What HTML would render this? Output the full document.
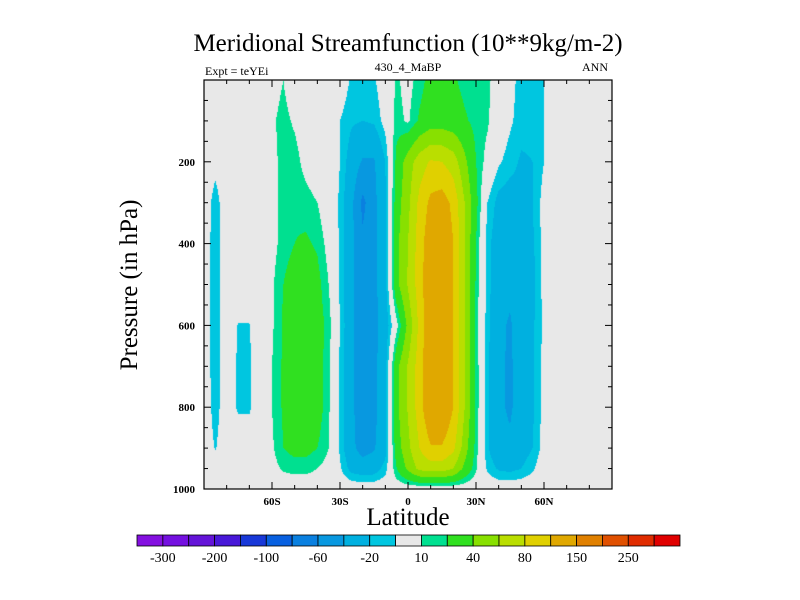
<!DOCTYPE html>
<html><head><meta charset="utf-8"><style>
body{margin:0;background:#fff;width:800px;height:600px;overflow:hidden;position:relative;font-family:"Liberation Serif",serif}
.t{position:absolute;white-space:nowrap;color:#000}
</style></head><body>
<div class="t" style="left:0;width:816px;text-align:center;top:30px;font-size:25px">Meridional Streamfunction (10**9kg/m-2)</div>
<div class="t" style="left:205px;top:64px;font-size:12px">Expt = teYEi</div>
<div class="t" style="left:358px;width:100px;text-align:center;top:60px;font-size:12px">430_4_MaBP</div>
<div class="t" style="left:582px;top:60px;font-size:12px">ANN</div>
<div class="t" style="left:130px;top:285px;font-size:25px;transform:translate(-50%,-50%) rotate(-90deg)">Pressure (in hPa)</div>
<div class="t" style="left:0;width:816px;text-align:center;top:504px;font-size:25px">Latitude</div>
<canvas id="field" width="408" height="409" style="position:absolute;left:204px;top:80px"></canvas>
<svg id="ov" width="800" height="600" style="position:absolute;left:0;top:0"></svg>
<script>
const lats=[-90,-85,-80,-75,-70,-65,-60,-55,-50,-45,-40,-35,-30,-25,-20,-15,-10,-5,0,5,10,15,20,25,30,35,40,45,50,55,60,65,70,75,80,85,90];
const pres=[0,100,200,300,400,500,600,700,800,900,950,1000];
const row0  =[0,0,0,0,0,0,4,10,0,0,0,0,0,-12,-15,-12,0,12,5,15,25,25,22,16,14,12,5,-5,-15,-15,-10,0,0,0,0,0,0];
const row100=[0,0,0,0,0,0,8,14,8,0,0,0,-10,-18,-20,-18,-5,14,8,22,30,30,28,22,16,12,0,-8,-15,-16,-10,0,0,0,0,0,0];
const row200=[0,-5,0,0,0,0,5,15,15,5,0,0,-10,-28,-42,-42,-20,25,50,70,82,80,70,45,20,5,-8,-15,-22,-20,-10,0,0,0,0,0,0];
const row300=[0,-16,0,0,0,0,5,15,18,15,10,0,-12,-35,-65,-46,-22,30,55,85,105,110,95,60,25,-10,-25,-28,-25,-20,-5,0,0,0,0,0,0];
const row400=[0,-18,0,0,0,0,5,15,20,22,18,5,-12,-35,-56,-46,-25,35,60,90,115,118,100,60,20,-15,-30,-32,-28,-22,-5,0,0,0,0,0,0];
const row500=[0,-18,0,0,0,0,8,20,28,30,25,10,-12,-35,-55,-46,-25,35,62,90,120,122,100,60,18,-15,-32,-36,-30,-25,-5,0,0,0,0,0,0];
const row600=[0,-18,0,-10.5,-10.5,0,8,22,30,32,28,15,-10,-35,-54,-46,-30,5,45,85,120,125,100,60,15,-15,-36,-42,-30,-22,-8,0,0,0,0,0,0];
const row700=[0,-18,0,-12,-12,0,10,22,30,32,28,12,-12,-35,-54,-46,-25,35,62,90,122,122,100,60,18,-18,-36,-43,-30,-22,-5,0,0,0,0,0,0];
const row800=[0,-16,0,-12,-12,0,10,22,30,32,28,12,-12,-35,-54,-46,-25,35,62,90,122,122,100,60,18,-18,-36,-43,-30,-22,-5,0,0,0,0,0,0];
const row900=[0,-11,0,0,0,0,8,20,25,25,20,10,-12,-35,-48,-42,-25,30,55,80,98,98,85,50,15,-18,-34,-36,-28,-20,-5,0,0,0,0,0,0];
const row950=[0,0,0,0,0,0,5,12,14,14,10,5,-8,-25,-30,-28,-15,20,45,65,70,70,60,35,12,-12,-22,-24,-20,-12,0,0,0,0,0,0,0];
const row1000=[0,0,0,0,0,0,0,0,0,0,0,0,0,0,0,0,0,0,0,0,0,0,0,0,0,0,0,0,0,0,0,0,0,0,0,0,0];
const levels=[-300,-250,-200,-150,-100,-80,-60,-40,-20,-10,10,20,40,60,80,100,150,200,250,300];
const colorLabels=["-300","-200","-100","-60","-20","10","40","80","150","250"];
const latTicks=[-60,-30,0,30,60];
const latTickLabels=["60S","30S","0","30N","60N"];
const presTicks=[200,400,600,800,1000];
const colors=["#8410e0","#7410e0","#6414d8","#4818d8","#1838d8","#0860e0","#0a80e0","#0898e0","#00b0e0","#00c6e0","#e8e8e8","#00e090","#30e020","#88e000","#bade00","#e0d000","#e0a800","#e08000","#e05000","#e02c00","#e00000"];
const rows=[row0,row100,row200,row300,row400,row500,row600,row700,row800,row900,row950,row1000];
const X0=204,X1=612,Y0=80,Y1=489;
const xs=l=>X0+(l+90)/180*(X1-X0);
const ys=p=>Y0+p/1000*(Y1-Y0);
function val(lat,p){
  let i=Math.min(lats.length-2,Math.max(0,Math.floor((lat+90)/5)));
  let fx=(lat-lats[i])/5;
  let j=0;while(j<pres.length-2&&p>pres[j+1])j++;
  let fy=(p-pres[j])/(pres[j+1]-pres[j]);
  const a=rows[j][i],b=rows[j][i+1],c=rows[j+1][i],d=rows[j+1][i+1];
  return (a*(1-fx)+b*fx)*(1-fy)+(c*(1-fx)+d*fx)*fy;
}
function colorOf(v){let k=0;while(k<levels.length&&v>=levels[k])k++;return colors[k];}
function hex(c){return [parseInt(c.substr(1,2),16),parseInt(c.substr(3,2),16),parseInt(c.substr(5,2),16)];}
const cv=document.getElementById('field'),ctx=cv.getContext('2d');
const W=cv.width,H=cv.height,img=ctx.createImageData(W,H);
for(let y=0;y<H;y++){const p=(y+0.5)/H*1000;
 for(let x=0;x<W;x++){const lat=(x+0.5)/W*180-90;
  const c=hex(colorOf(val(lat,p)));const o=(y*W+x)*4;
  img.data[o]=c[0];img.data[o+1]=c[1];img.data[o+2]=c[2];img.data[o+3]=255;}}
ctx.putImageData(img,0,0);
const NS='http://www.w3.org/2000/svg',svg=document.getElementById('ov');
function mk(t,a,txt){const e=document.createElementNS(NS,t);for(const k in a)e.setAttribute(k,a[k]);if(txt!==undefined)e.textContent=txt;svg.appendChild(e);return e;}
let fr=mk('rect',{x:X0,y:Y0,width:X1-X0,height:Y1-Y0,fill:'none',stroke:'#000','stroke-width':1.2});


for(let l=-80;l<=80;l+=10){const maj=l%30===0,len=maj?7:4;
 mk('line',{x1:xs(l),x2:xs(l),y1:Y1,y2:Y1-len,stroke:'#000'});
 mk('line',{x1:xs(l),x2:xs(l),y1:Y0,y2:Y0+len,stroke:'#000'});}
for(let p=50;p<=950;p+=50){const maj=p%200===0,len=maj?7:4;
 mk('line',{x1:X0,x2:X0+len,y1:ys(p),y2:ys(p),stroke:'#000'});
 mk('line',{x1:X1,x2:X1-len,y1:ys(p),y2:ys(p),stroke:'#000'});}
latTicks.forEach((l,i)=>{const t=mk('text',{x:xs(l),y:Y1+16,'text-anchor':'middle','font-size':11,'font-weight':'bold','font-family':'Liberation Serif, serif'},latTickLabels[i]);
 
 });
presTicks.forEach(p=>{const t=mk('text',{x:X0-9,y:ys(p)+4,'text-anchor':'end','font-size':11,'font-weight':'bold','font-family':'Liberation Serif, serif'},String(p));
 
 });
const CB0=137,CB1=680,CBY=535,CBH=11,bw=(CB1-CB0)/colors.length;
colors.forEach((c,i)=>{const r=mk('rect',{x:CB0+i*bw,y:CBY,width:bw,height:CBH,fill:c,stroke:'#000','stroke-width':0.8});
 
 });
colorLabels.forEach((s,i)=>{const t=mk('text',{x:CB0+(2*i+1)*bw,y:CBY+27,'text-anchor':'middle','font-size':14,'font-family':'Liberation Serif, serif'},s);
 
 });
</script>
</body></html>
